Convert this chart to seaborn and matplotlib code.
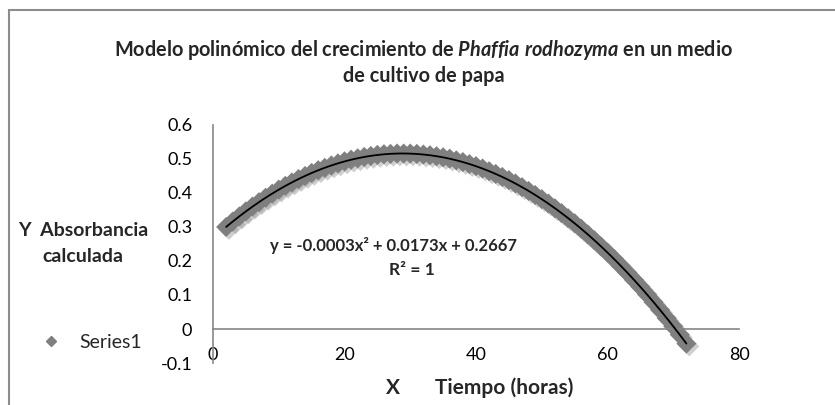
import numpy as np
import pandas as pd
import matplotlib
matplotlib.use("Agg")
import matplotlib.pyplot as plt
import matplotlib.patheffects as pe
from matplotlib.patches import Rectangle
from matplotlib.lines import Line2D
import seaborn as sns

# tiempo (horas) y absorbancia calculada
tiempo = list(range(2, 73))
absorbancia = [0.300, 0.316, 0.331, 0.346, 0.360, 0.373, 0.386, 0.398, 0.410,
               0.421, 0.431, 0.441, 0.450, 0.459, 0.467, 0.474, 0.481, 0.487,
               0.493, 0.498, 0.502, 0.506, 0.509, 0.512, 0.514, 0.515, 0.516,
               0.516, 0.516, 0.515, 0.513, 0.511, 0.508, 0.505, 0.501, 0.496,
               0.491, 0.485, 0.479, 0.472, 0.464, 0.456, 0.447, 0.438, 0.428,
               0.417, 0.406, 0.394, 0.382, 0.369, 0.355, 0.341, 0.326, 0.311,
               0.295, 0.278, 0.261, 0.243, 0.225, 0.206, 0.186, 0.166, 0.145,
               0.124, 0.102, 0.079, 0.056, 0.032, 0.008, -0.017, -0.043]
xticks = [0, 20, 40, 60, 80]
yticks = [-0.1, 0, 0.1, 0.2, 0.3, 0.4, 0.5, 0.6]
yticklabels = ["-0.1", "0", "0.1", "0.2", "0.3", "0.4", "0.5", "0.6"]

df = pd.DataFrame({"tiempo": tiempo, "absorbancia": absorbancia})

sns.set_style("white")
plt.rcParams["font.family"] = ["Lato", "DejaVu Sans"]
plt.rcParams["mathtext.fontset"] = "custom"
plt.rcParams["mathtext.it"] = "Lato:italic:bold"
plt.rcParams["mathtext.rm"] = "Lato:bold"

W, H = 835, 405
fig = plt.figure(figsize=(W / 100, H / 100), dpi=100)
ax = fig.add_axes([213 / W, 1 - 363 / H, 526 / W, 238 / H])

gris = "#7f7f7f"
eje = "#868686"

sns.scatterplot(data=df, x="tiempo", y="absorbancia", ax=ax, marker="D",
                s=105, color=gris, edgecolor=gris, linewidth=0, legend=False,
                zorder=2)
for c in ax.collections:
    c.set_path_effects([pe.SimplePatchShadow(offset=(2, -2), shadow_rgbFace="#a0a0a0",
                                             alpha=0.5), pe.Normal()])

sns.regplot(data=df, x="tiempo", y="absorbancia", order=2, scatter=False,
            ci=None, ax=ax, line_kws=dict(color="black", lw=1.3, zorder=3))

ax.set_xlim(0, 80)
ax.set_ylim(-0.1, 0.6)
ax.set_xticks(xticks)
ax.set_yticks(yticks)
ax.set_yticklabels(yticklabels)
ax.set_xlabel("")
ax.set_ylabel("")
ax.spines["top"].set_visible(False)
ax.spines["right"].set_visible(False)
ax.spines["bottom"].set_position(("data", 0))
for s in ("left", "bottom"):
    ax.spines[s].set_color(eje)
    ax.spines[s].set_linewidth(1.2)
ax.tick_params(axis="both", direction="out", length=5, width=1.2, color=eje,
               labelsize=13, labelcolor="black")
ax.tick_params(axis="y", pad=10)
ax.tick_params(axis="x", pad=8)
ax.patch.set_alpha(0)

# marco del area del grafico
fig.patches.append(Rectangle((9 / W, -0.1), 1.2, 1 - 10 / H + 0.1,
                             transform=fig.transFigure, fill=False,
                             edgecolor="#8c8c8c", lw=1.5))

fig.text(424 / W, 1 - 50 / H,
         "Modelo polinómico del crecimiento de $\\it{Phaffia\\ rodhozyma}$ en un medio",
         ha="center", va="center", fontsize=14.3, fontweight="bold")
fig.text(424 / W, 1 - 76 / H, "de cultivo de papa", ha="center", va="center",
         fontsize=14.3, fontweight="bold")

fig.text(83 / W, 1 - 230 / H, "Y  Absorbancia", ha="center", va="center",
         fontsize=14, fontweight="bold")
fig.text(83 / W, 1 - 257 / H, "calculada", ha="center", va="center",
         fontsize=14, fontweight="bold")
fig.text(393 / W, 1 - 388 / H, "X", ha="center", va="center",
         fontsize=15, fontweight="bold")
fig.text(435 / W, 1 - 388 / H, "Tiempo (horas)", ha="left", va="center",
         fontsize=15, fontweight="bold")

fig.text(394 / W, 1 - 245 / H, "y = -0.0003x² + 0.0173x + 0.2667",
         ha="center", va="center", fontsize=12, fontweight="bold")
fig.text(412 / W, 1 - 270 / H, "R² = 1", ha="center", va="center",
         fontsize=12.5, fontweight="bold")

fig.legend(handles=[Line2D([], [], marker="D", color=gris, ls="none", ms=5)],
           labels=["Series1"], loc="center left",
           bbox_to_anchor=(19 / W, 1 - 342 / H), frameon=False, fontsize=14,
           handletextpad=0.7, handlelength=1.5)

fig.savefig("out.png", dpi=100)
